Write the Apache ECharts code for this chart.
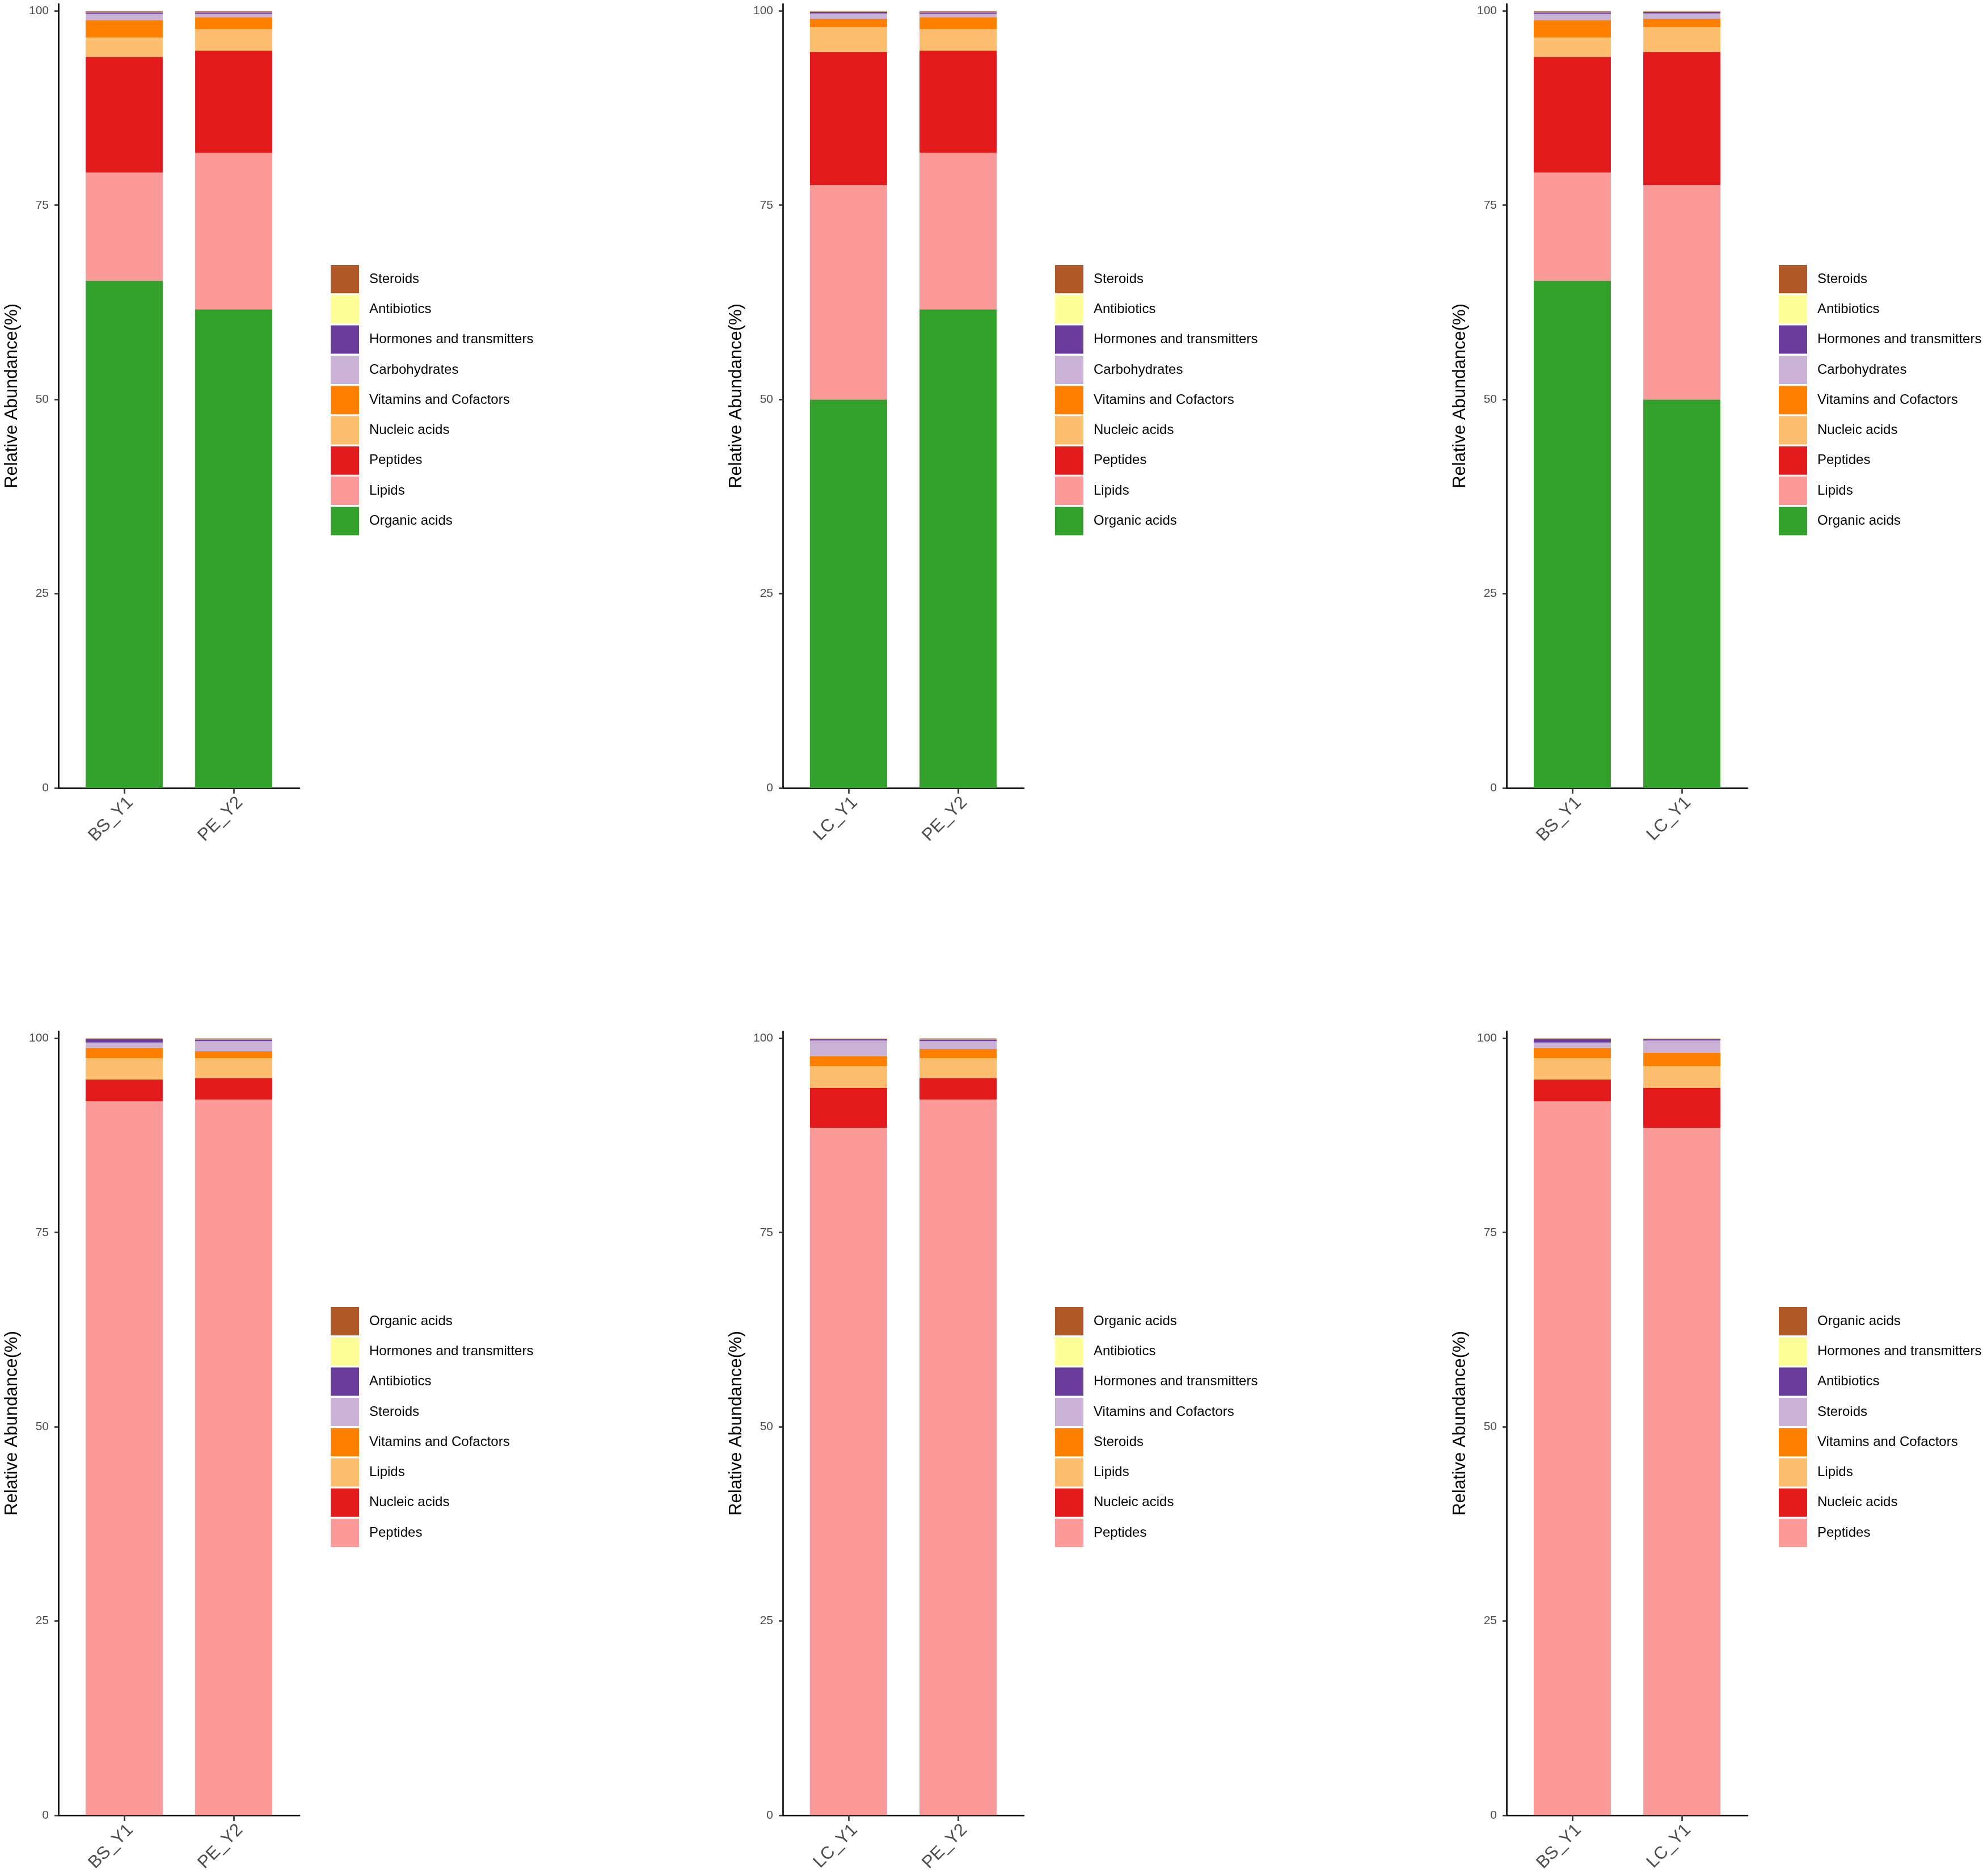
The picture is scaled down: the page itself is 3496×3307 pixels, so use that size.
<!DOCTYPE html>
<html>
<head>
<meta charset="utf-8">
<script src="https://cdn.jsdelivr.net/npm/echarts@6/dist/echarts.min.js"></script>
<style>
html,body{margin:0;padding:0;background:#fff;width:3496px;height:3307px;overflow:hidden;position:relative}
.p{position:absolute;width:1277px;height:1496px}
</style>
</head>
<body>
<div id="p1" class="p" style="left:0px;top:0px"></div>
<div id="p2" class="p" style="left:1277px;top:0px"></div>
<div id="p3" class="p" style="left:2553px;top:0px"></div>
<div id="p4" class="p" style="left:0px;top:1811px"></div>
<div id="p5" class="p" style="left:1277px;top:1811px"></div>
<div id="p6" class="p" style="left:2553px;top:1811px"></div>
<script>
// ---------- data ----------
const yTickValues = [0, 25, 50, 75, 100];

// Top row: stacking order bottom -> top
const topNames = ['Organic acids', 'Lipids', 'Peptides', 'Nucleic acids', 'Vitamins and Cofactors',
  'Carbohydrates', 'Hormones and transmitters', 'Antibiotics', 'Steroids'];
const topColors = ['#33A02C', '#FB9A99', '#E31A1C', '#FDBF6F', '#FF7F00', '#CAB2D6', '#6A3D9A', '#FFFF99', '#B15928'];
const top_BS_Y1 = [65.3, 13.9, 14.9, 2.5, 2.23, 0.81, 0.21, 0.05, 0.10];
const top_PE_Y2 = [61.6, 20.16, 13.14, 2.79, 1.51, 0.44, 0.21, 0.05, 0.10];
const top_LC_Y1 = [50.0, 27.6, 17.1, 3.2, 1.1, 0.68, 0.20, 0.04, 0.08];

// Bottom row: stacking order bottom -> top
const bottomNamesA = ['Peptides', 'Nucleic acids', 'Lipids', 'Vitamins and Cofactors', 'Steroids',
  'Antibiotics', 'Hormones and transmitters', 'Organic acids'];
const bottomNamesB = ['Peptides', 'Nucleic acids', 'Lipids', 'Steroids', 'Vitamins and Cofactors',
  'Hormones and transmitters', 'Antibiotics', 'Organic acids'];
const bottomColors = ['#FB9A99', '#E31A1C', '#FDBF6F', '#FF7F00', '#CAB2D6', '#6A3D9A', '#FFFF99', '#B15928'];
const b1_BS_Y1 = [91.9, 2.8, 2.75, 1.35, 0.65, 0.42, 0.10, 0.03];
const b1_PE_Y2 = [92.1, 2.8, 2.55, 0.90, 1.29, 0.22, 0.10, 0.04];
const b2_LC_Y1 = [88.47, 5.16, 2.79, 1.29, 2.00, 0.17, 0.10, 0.02];
const b2_PE_Y2 = [92.1, 2.8, 2.55, 1.19, 1.00, 0.22, 0.10, 0.04];
const b3_BS_Y1 = [91.9, 2.8, 2.75, 1.35, 0.65, 0.42, 0.10, 0.03];
const b3_LC_Y1 = [88.47, 5.16, 2.79, 1.71, 1.58, 0.17, 0.10, 0.02];

const panels = [
  { el: 'p1', cats: ['BS_Y1', 'PE_Y2'], names: topNames, colors: topColors, values: [top_BS_Y1, top_PE_Y2], legendTop: 467 },
  { el: 'p2', cats: ['LC_Y1', 'PE_Y2'], names: topNames, colors: topColors, values: [top_LC_Y1, top_PE_Y2], legendTop: 467 },
  { el: 'p3', cats: ['BS_Y1', 'LC_Y1'], names: topNames, colors: topColors, values: [top_BS_Y1, top_LC_Y1], legendTop: 467 },
  { el: 'p4', cats: ['BS_Y1', 'PE_Y2'], names: bottomNamesA, colors: bottomColors, values: [b1_BS_Y1, b1_PE_Y2], legendTop: 493 },
  { el: 'p5', cats: ['LC_Y1', 'PE_Y2'], names: bottomNamesB, colors: bottomColors, values: [b2_LC_Y1, b2_PE_Y2], legendTop: 493 },
  { el: 'p6', cats: ['BS_Y1', 'LC_Y1'], names: bottomNamesA, colors: bottomColors, values: [b3_BS_Y1, b3_LC_Y1], legendTop: 493 }
];

// ---------- rendering ----------
const FONT = '"Liberation Sans", Arial, Helvetica, sans-serif';

function buildOption(p) {
  const xPos = p.cats.map((c, j) => j + 1);
  const series = p.names.map((n, i) => ({
    name: n,
    type: 'bar',
    stack: 'total',
    barWidth: 136,
    itemStyle: { color: p.colors[i] },
    emphasis: { disabled: true },
    // [value, position] so that the value column is the stacked one
    encode: { x: 1, y: 0 },
    data: p.cats.map((c, j) => [p.values[j][i], xPos[j]])
  }));
  return {
    animation: false,
    backgroundColor: '#fff',
    textStyle: { fontFamily: FONT },
    grid: { left: 103, top: 7, width: 425, height: 1382, containLabel: false },
    xAxis: {
      type: 'value',
      min: 0.4,
      max: 2.6,
      splitLine: { show: false },
      axisLine: { show: true, onZero: false, lineStyle: { color: '#000', width: 2.6 } },
      axisTick: { show: true, customValues: xPos, length: 10, lineStyle: { color: '#333', width: 2.6 } },
      axisLabel: {
        customValues: xPos,
        formatter: v => p.cats[Math.round(v) - 1],
        rotate: 45,
        fontSize: 31,
        color: '#4D4D4D',
        margin: 10,
        verticalAlign: 'top',
        fontFamily: FONT
      }
    },
    yAxis: {
      type: 'value',
      min: 0,
      max: 100.9,
      splitLine: { show: false },
      axisLine: { show: true, lineStyle: { color: '#000', width: 2.6 } },
      axisTick: { show: true, customValues: yTickValues, length: 7, lineStyle: { color: '#333', width: 2.6 } },
      axisLabel: { customValues: yTickValues, fontSize: 21, color: '#4D4D4D', margin: 17, fontFamily: FONT },
      name: 'Relative Abundance(%)',
      nameLocation: 'middle',
      nameRotate: 90,
      nameGap: 66,
      nameTextStyle: { fontSize: 31, color: '#000', fontFamily: FONT }
    },
    legend: {
      orient: 'vertical',
      left: 583,
      top: p.legendTop,
      itemWidth: 50,
      itemHeight: 50,
      itemGap: 3.3,
      icon: 'rect',
      selectedMode: false,
      padding: 0,
      data: p.names.slice().reverse(),
      textStyle: { fontSize: 24, color: '#000', padding: [0, 0, 0, 13], fontFamily: FONT }
    },
    series: series
  };
}

panels.forEach(p => {
  const chart = echarts.init(document.getElementById(p.el), null, { renderer: 'canvas' });
  chart.setOption(buildOption(p));
});
</script>
</body>
</html>
